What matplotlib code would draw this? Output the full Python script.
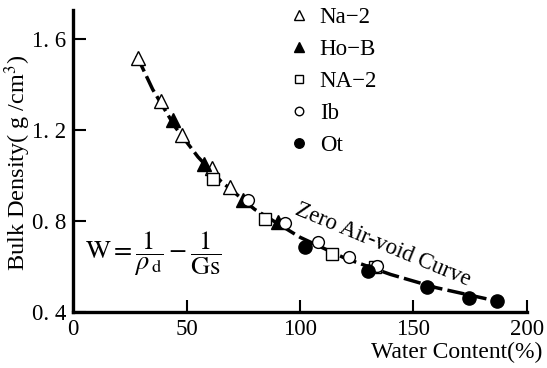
import matplotlib
matplotlib.use("Agg")
import matplotlib.pyplot as plt

na2_w = [28.5, 38.5, 47.8, 61.0, 69.1]
na2_rho = [1.517, 1.327, 1.177, 1.033, 0.949]

hob_w = [43.8, 57.7, 74.9, 90.4]
hob_rho = [1.246, 1.052, 0.891, 0.796]

NA2_w = [61.7, 84.5, 113.9, 133.0]
NA2_rho = [0.986, 0.810, 0.654, 0.598]

ib_w = [77.2, 93.3, 108.0, 121.7, 133.9]
ib_rho = [0.894, 0.789, 0.708, 0.642, 0.601]

ot_w = [102.2, 130.1, 156.2, 174.5, 187.0]
ot_rho = [0.686, 0.580, 0.507, 0.459, 0.447]

# zero air-void curve as drawn
zav_w = [28, 35, 45, 55, 65, 80, 100, 120, 140, 160, 188]
zav_rho = [1.528, 1.380, 1.213, 1.082, 0.976, 0.851, 0.728, 0.635, 0.564, 0.506, 0.444]

x_ticks = [0, 50, 100, 150, 200]
y_ticks = [0.4, 0.8, 1.2, 1.6]
y_tick_labels = ["0. 4", "0. 8", "1. 2", "1. 6"]

plt.rcParams["font.family"] = ["Liberation Serif", "DejaVu Serif"]
plt.rcParams["mathtext.fontset"] = "stix"

fig = plt.figure(figsize=(5.47, 3.68), dpi=100)
ax = fig.add_axes([0.134, 0.153, 0.829, 0.82])

ax.plot(zav_w, zav_rho, color="black", lw=2.5, linestyle=(0, (5, 1.5)), zorder=1)

mk = dict(color="black", linestyle="none", mew=1.0, zorder=3)
ax.plot(na2_w, na2_rho, marker="^", ms=9.5, mfc="white", label="Na\u22122", **mk)
ax.plot(hob_w, hob_rho, marker="^", ms=9.5, mfc="black", label="Ho\u2212B", **mk)
ax.plot(NA2_w, NA2_rho, marker="s", ms=8, mfc="white", label="NA\u22122", **mk)
ax.plot(ib_w, ib_rho, marker="o", ms=8.5, mfc="white", label="Ib", **mk)
ax.plot(ot_w, ot_rho, marker="o", ms=9.5, mfc="black", label="Ot", **mk)

leg = ax.legend(loc="upper left", bbox_to_anchor=(290 / 547, 1 - 7 / 368),
                bbox_transform=fig.transFigure, frameon=False, fontsize=16.5,
                handlelength=0.8, handletextpad=0.5, labelspacing=0.48,
                borderpad=0, borderaxespad=0, markerscale=0.72)

ax.text(136.6, 0.693, "Zero Air-void Curve", rotation=-22.5, fontsize=16.5,
        ha="center", va="center", rotation_mode="anchor")

ax.text(5.1, 0.654, r"$\mathrm{W}=\dfrac{1}{\rho_{\,\mathrm{d}}}-\dfrac{1}{\mathrm{Gs}}$",
        fontsize=19, ha="left", va="center")

ax.set_xlim(0, 200)
ax.set_ylim(0.4, 1.73)
ax.set_xticks(x_ticks)
ax.set_yticks(y_ticks)
ax.set_yticklabels(y_tick_labels)
ax.tick_params(direction="in", length=9, width=1.5, labelsize=16.5, pad=5)

for side in ("top", "right"):
    ax.spines[side].set_visible(False)
for side in ("left", "bottom"):
    ax.spines[side].set_linewidth(2.4)

ax.set_xlabel("Water Content(%)", fontsize=17)
ax.xaxis.set_label_coords(542 / 547, 1 - 352 / 368, transform=fig.transFigure)
ax.xaxis.label.set_ha("right")
ax.xaxis.label.set_va("center")
ax.set_ylabel("Bulk Density( g /cm$^3$)", fontsize=17.5)
ax.yaxis.set_label_coords(18 / 547, 1 - 163 / 368, transform=fig.transFigure)
ax.yaxis.label.set_va("center")

fig.savefig("out.png", dpi=100)
